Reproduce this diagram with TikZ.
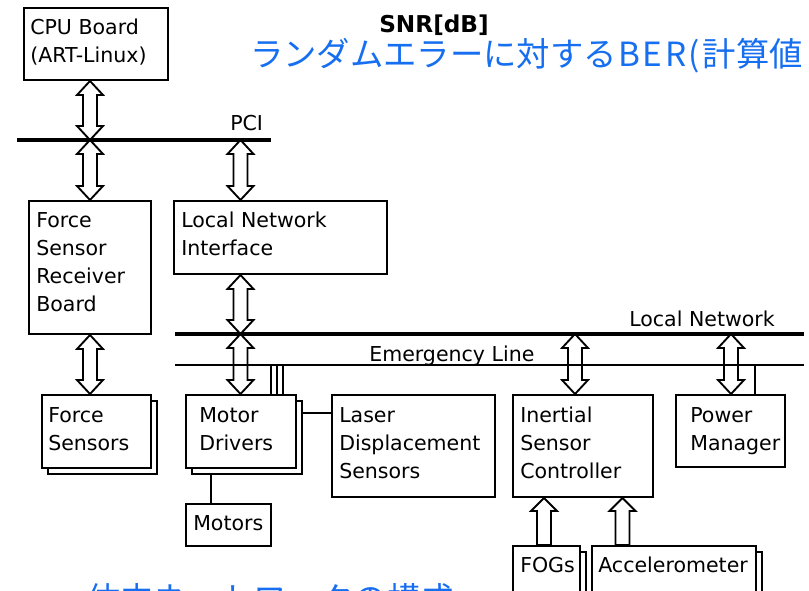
\documentclass[tikz,border=0pt]{standalone}
\usepackage{fontspec}
\setmainfont{DejaVu Sans}
\newfontfamily\jpfont{Noto Sans CJK JP}
\usetikzlibrary{calc,fit}
\definecolor{jpblue}{RGB}{22,110,240}
\newcommand\mlines[1]{\begin{tabular}[t]{@{}l@{}}#1\end{tabular}}
\newcommand\dblarrow[2]{\draw[barrow] let \p1=(#1), \p2=(#2) in
  (\x1,\y1) -- ++(9.75pt,-10.5pt) -- ++(-4.5pt,0pt) -- (\x1+5.25pt,\y2+10.5pt) -- ++(4.5pt,0pt)
  -- (\x1,\y2) -- ++(-9.75pt,10.5pt) -- ++(4.5pt,0pt) -- (\x1-5.25pt,\y1-10.5pt) -- ++(-4.5pt,0pt) -- cycle;}
\newcommand\uparr[2]{\draw[barrow] let \p1=(#1), \p2=(#2) in
  (\x1,\y1) -- ++(9.75pt,-9.75pt) -- ++(-4.5pt,0pt) -- (\x1+5.25pt,\y2) -- (\x1-5.25pt,\y2)
  -- (\x1-5.25pt,\y1-9.75pt) -- ++(-4.5pt,0pt) -- cycle;}
\tikzset{
  x=0.75pt, y=-0.75pt,
  box/.style={draw, line width=1.5pt, fill=white, inner sep=0pt},
  lbl/.style={anchor=base west, inner sep=0pt, font=\fontsize{15.4}{21}\selectfont},
  bus/.style={line width=3.4pt},
  eline/.style={line width=2pt},
  wire/.style={line width=1.4pt},
  barrow/.style={draw, line width=1.4pt, fill=white, line join=miter},
  jptext/.style={anchor=west, inner sep=0pt, text=jpblue, font=\jpfont\fontsize{25}{30}\selectfont},
}
\begin{document}
\begin{tikzpicture}
\useasboundingbox (0,0) rectangle (809,591);
\fill[white] (0,0) rectangle (809,591);

% titles
\node[anchor=base west, inner sep=0pt, font=\bfseries\fontsize{17.4}{20}\selectfont] (snr) at (379,33) {SNR[dB]};
\node[jptext] (title) at (250,56) {ランダムエラーに対する\hspace{1pt}B\hspace{2pt}E\hspace{2pt}R\hspace{2pt}(\hspace{2pt}計算値};
\node[jptext] (caption) at (87,599) {体内ネットワークの構成};

% boxes
\node[box, fit={(24,8) (168,80)}] (cpu) {};
\node[lbl] (cput) at (30,35) {\mlines{CPU Board\\(ART-Linux)}};

\node[box, fit={(29,201) (151,334)}] (fsr) {};
\node[lbl] (fsrt) at (36,228) {\mlines{Force\\Sensor\\Receiver\\Board}};

\node[box, fit={(174,201) (387,274)}] (lni) {};
\node[lbl] (lnit) at (181,228) {\mlines{Local Network\\Interface}};

\node[box, fit={(48,401) (157,474)}] (fsb) {};
\node[box, fit={(42,395) (151,468)}] (fs) {};
\node[lbl] (fst) at (48,422) {\mlines{Force\\Sensors}};

\node[box, fit={(192,401) (302,474)}] (mdb) {};
\node[box, fit={(186,395) (296,468)}] (md) {};
\node[lbl] (mdt) at (199,422) {\mlines{Motor\\Drivers}};

\node[box, fit={(332,395) (495,497)}] (laser) {};
\node[lbl] (lasert) at (339,422) {\mlines{Laser\\Displacement\\Sensors}};

\node[box, fit={(186,504) (271,546)}] (motors) {};
\node[lbl] (motorst) at (193,530) {Motors};

\node[box, fit={(513,395) (653,497)}] (isc) {};
\node[lbl] (isct) at (520,422) {\mlines{Inertial\\Sensor\\Controller}};

\node[box, fit={(676,395) (785,467)}] (pm) {};
\node[lbl] (pmt) at (690,422) {\mlines{Power\\Manager}};

\node[box, fit={(519,552) (586,610)}] (fogsb) {};
\node[box, fit={(513,546) (580,604)}] (fogs) {};
\node[lbl] (fogst) at (520,572) {FOGs};

\node[box, fit={(598,552) (762,610)}] (accb) {};
\node[box, fit={(592,546) (756,604)}] (acc) {};
\node[lbl] (acct) at (598,572) {Accelerometer};

% bus coordinates
\coordinate (pciL) at (17,140);
\coordinate (pciR) at (271,140);
\coordinate (lnL) at (175,334);
\coordinate (lnR) at (804,334);
\coordinate (emL) at (175,365);
\coordinate (emR) at (804,365);

% block arrows
\dblarrow{fsr.north |- cpu.south}{fsr.north |- pciL}
\dblarrow{fsr.north |- pciL}{fsr.north}
\coordinate (ax) at (240.5,0);
\dblarrow{ax |- pciL}{ax |- lni.north}
\dblarrow{ax |- lni.south}{ax |- lnL}
\dblarrow{ax |- lnL}{ax |- md.north}
\dblarrow{fsr.south}{fsr.south |- fs.north}
\coordinate (iscx) at (575,0);
\dblarrow{iscx |- lnL}{iscx |- isc.north}
\coordinate (pmx) at (731,0);
\dblarrow{pmx |- lnL}{pmx |- pm.north}
\coordinate (fogx) at (544,0);
\uparr{fogx |- isc.south}{fogx |- fogs.north}
\coordinate (accx) at (622.5,0);
\uparr{accx |- isc.south}{accx |- acc.north}

% buses
\draw[bus] (pciL) -- (pciR);
\draw[bus] (lnL) -- (lnR);
\draw[eline] (emL) -- (emR);
\node[lbl] (pcil) at (230,131) {PCI};
\node[lbl] (lnl) at (629,326) {Local Network};
\node[lbl] (eml) at (369,361) {Emergency Line};

% thin wires
\foreach \xx in {271,277,283} {\draw[wire] (\xx,365) -- (\xx,395);}
\coordinate (mdr) at (302,413);
\draw[wire] (mdr) -- (mdr -| laser.west);
\coordinate (mdm) at (211,474);
\draw[wire] (mdm) -- (mdm |- motors.north);
\coordinate (pme) at (755,365);
\draw[wire] (pme) -- (pme |- pm.north);
\end{tikzpicture}
\end{document}
